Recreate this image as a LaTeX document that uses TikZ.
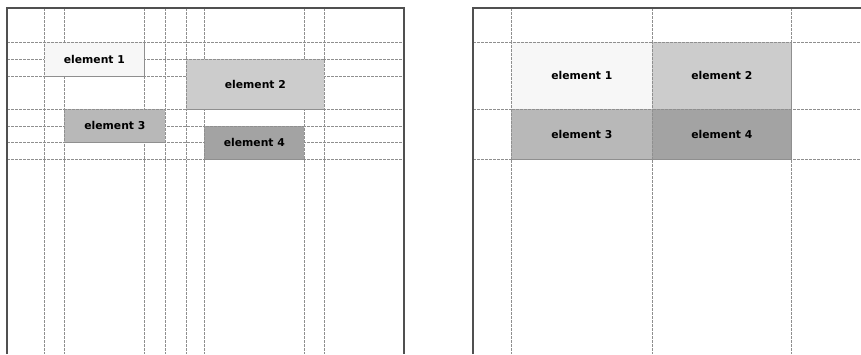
\documentclass[tikz,border=0pt]{standalone}
\usepackage{fontspec}
\usepackage{xcolor}
\newfontfamily\elemfont{DejaVu Sans}
\definecolor{frame3}{HTML}{505050}
\definecolor{guide3}{HTML}{8f8f8f}
\definecolor{shade1}{HTML}{f7f7f7}
\definecolor{shade2}{HTML}{cccccc}
\definecolor{shade3}{HTML}{b8b8b8}
\definecolor{shade4}{HTML}{a3a3a3}

\tikzset{
  frameline/.style={line width=1.6pt, frame3},
  guideline/.style={line width=0.8pt, guide3, dash pattern=on 3pt off 1pt},
  elembox/.style={draw=guide3, line width=0.8pt, dash pattern=on 3pt off 1pt,
    inner sep=0pt, anchor=north west,
    font=\elemfont\bfseries\fontsize{10.8}{12}\selectfont}
}

\begin{document}
\begin{tikzpicture}[x=1pt, y=-1pt]
    \useasboundingbox (0,0) rectangle (861,354);

    % Left panel - loose guides
    \begin{scope}
      \draw[guideline] (44,8) -- (44,354) (64,8) -- (64,354) (144,8) -- (144,354) (165,8) -- (165,354);
      \draw[guideline] (186,8) -- (186,354) (204,8) -- (204,354) (304,8) -- (304,354) (324,8) -- (324,354);
      \draw[guideline] (7,42) -- (404,42) (7,59) -- (404,59) (7,76) -- (404,76) (7,109) -- (404,109);
      \draw[guideline] (7,126) -- (404,126) (7,142) -- (404,142) (7,159) -- (404,159);
      \draw[frameline] (7,354) -- (7,8) -- (404,8) -- (404,354);
      \node[elembox, fill=shade1, minimum width=100pt, minimum height=34pt] (le1) at (44,42) {element 1};
      \node[elembox, fill=shade2, minimum width=138pt, minimum height=50pt] (le2) at (186,59) {element 2};
      \node[elembox, fill=shade3, minimum width=101pt, minimum height=33pt] (le3) at (64,109) {element 3};
      \node[elembox, fill=shade4, minimum width=100pt, minimum height=33pt] (le4) at (204,126) {element 4};
    \end{scope}

    % Right panel - shared grid
    \begin{scope}
      \draw[guideline] (511,8) -- (511,354) (652,8) -- (652,354) (791,8) -- (791,354);
      \draw[guideline] (473,42) -- (861,42) (473,109) -- (861,109) (473,159) -- (861,159);
      \draw[frameline] (473,354) -- (473,8) -- (861,8);
      \node[elembox, fill=shade1, minimum width=141pt, minimum height=67pt] (re1) at (511,42) {element 1};
      \node[elembox, fill=shade2, minimum width=139pt, minimum height=67pt] (re2) at (652,42) {element 2};
      \node[elembox, fill=shade3, minimum width=141pt, minimum height=50pt] (re3) at (511,109) {element 3};
      \node[elembox, fill=shade4, minimum width=139pt, minimum height=50pt] (re4) at (652,109) {element 4};
    \end{scope}
  \end{tikzpicture}
\end{document}
